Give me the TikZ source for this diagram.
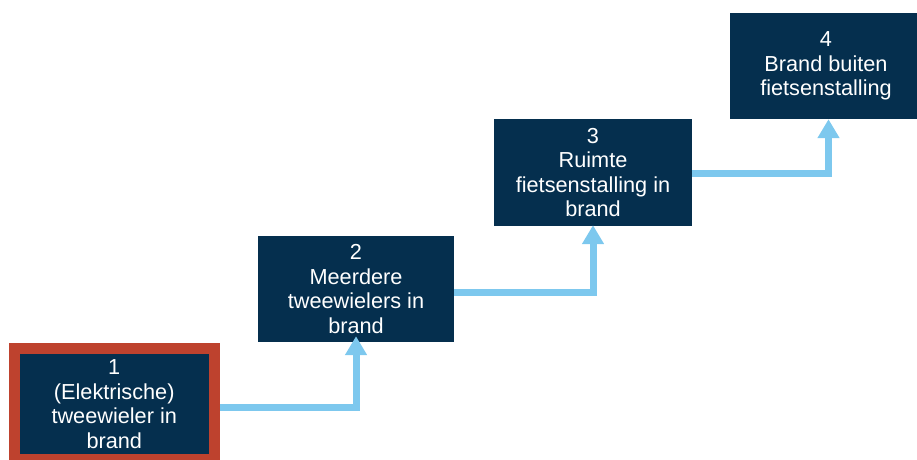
\documentclass[tikz,border=0pt]{standalone}
\usepackage{fontspec}
\setmainfont{Liberation Sans}
\usetikzlibrary{arrows.meta}
\definecolor{navy}{RGB}{5,47,78}
\definecolor{skyline}{RGB}{125,200,238}
\definecolor{redframe}{RGB}{190,66,46}
\tikzset{
  stagebox/.style={fill=navy, text=white, align=center, inner sep=0pt,
    font=\fontsize{21.7}{24.5}\selectfont},
  link/.style={draw=skyline, line width=7pt,
    -{Triangle[width=21pt,length=19pt]}},
}
\begin{document}
\begin{tikzpicture}[x=1pt,y=-1pt]
\useasboundingbox (0,0) rectangle (917,459);
\clip (0,0) rectangle (917,459);
\node[stagebox, draw=redframe, line width=11pt, minimum width=200.5pt, minimum height=111pt]
  (b1) at (114.25,404) {1\\(Elektrische)\\tweewieler in\\brand};
\node[stagebox, minimum width=196pt, minimum height=106pt]
  (b2) at (356,289) {2\\Meerdere\\tweewielers in\\brand};
\node[stagebox, minimum width=198pt, minimum height=107pt]
  (b3) at (593,172.5) {3\\Ruimte\\fietsenstalling in\\brand};
\node[stagebox, minimum width=192pt, minimum height=106pt]
  (b4) at (826,66) {4\\Brand buiten\\fietsenstalling};
\draw[link] ([yshift=-3.5pt]b1.east) -| ([yshift=6pt]b2.south);
\draw[link] ([yshift=-3pt]b2.east) -| ([yshift=1pt]b3.south);
\draw[link] ([yshift=-0.5pt]b3.east) -| ([xshift=2.5pt]b4.south);
\end{tikzpicture}
\end{document}
